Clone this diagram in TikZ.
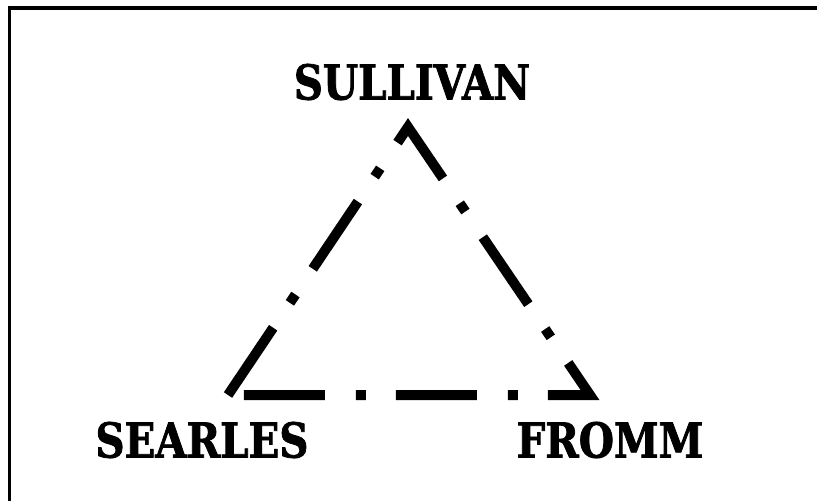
\documentclass[tikz,border=0pt]{standalone}
\usepackage{fontspec}
\newfontfamily\namefont[FakeStretch=0.84,FakeBold=1.6]{DejaVu Serif}
\tikzset{
  person/.style={inner sep=0pt,font=\namefont\bfseries\fontsize{41}{41}\selectfont},
  chain line/.style={line width=0.3cm,dash pattern=on 2.43cm off 0.90cm on 0.30cm off 0.93cm}
}

\begin{document}
\begin{tikzpicture}[x=0.03cm,y=-0.03cm]
\useasboundingbox (0,0) rectangle (817,501);
% frame, only top and left edges show
\draw[line width=0.105cm] (9.5,501) |- (817,8);
% names
\node[person] (sullivan) at (412,82) {SULLIVAN};
\node[person] (searles) at (202,440) {SEARLES};
\node[person] (fromm) at (610,440) {FROMM};
% corners of the triangle
\coordinate (a) at (228,395);
\coordinate (b) at (408,127);
\coordinate (c) at (590,395);
\draw[chain line] (a) -- (b) -- (c) -- cycle;
\end{tikzpicture}
\end{document}
